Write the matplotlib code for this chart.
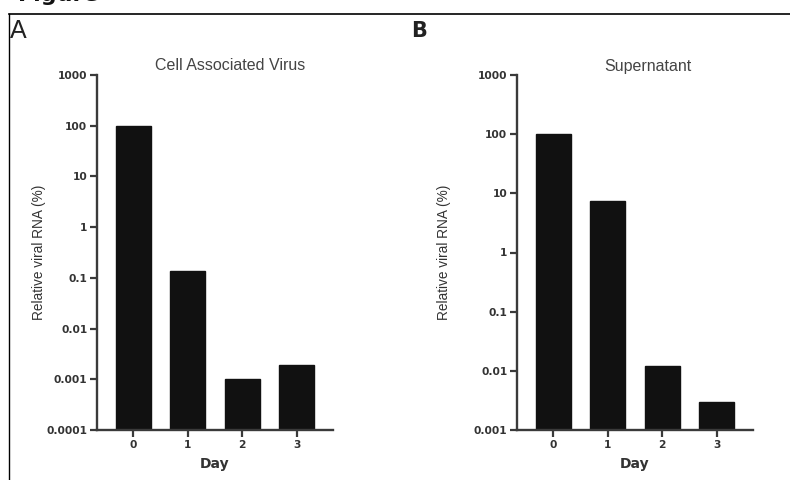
import numpy as np
import matplotlib.pyplot as plt
from matplotlib.ticker import NullLocator

# data
days = [0, 1, 2, 3]
cell_virus = [100, 0.135, 0.001, 0.0019]
supernatant = [100, 7.3, 0.012, 0.003]

a_ticks = [1e-4, 1e-3, 1e-2, 1e-1, 1, 10, 100, 1000]
a_ticklabels = ['0.0001', '0.001', '0.01', '0.1', '1', '10', '100', '1000']
b_ticks = [1e-3, 1e-2, 1e-1, 1, 10, 100, 1000]
b_ticklabels = ['0.001', '0.01', '0.1', '1', '10', '100', '1000']

sans = ['Liberation Sans', 'DejaVu Sans']
axcol = '#3a3a3a'

fig = plt.figure(figsize=(7.9, 4.8), dpi=100)


def panel(rect, vals, ticks, labels, title, title_x, ylab_x):
    ax = fig.add_axes(rect)
    ax.set_yscale('log')
    lo, hi = ticks[0], ticks[-1]
    heights = [v - lo for v in vals]
    ax.bar(days, heights, bottom=lo, width=0.645, color='#111111',
           edgecolor='#111111', linewidth=1)
    ax.set_ylim(lo, hi)
    ax.set_xlim(-0.67, 3.67)
    ax.set_yticks(ticks)
    ax.set_yticklabels(labels)
    ax.yaxis.set_minor_locator(NullLocator())
    ax.set_xticks(days)
    ax.set_xticklabels([str(d) for d in days])
    for s in ['top', 'right']:
        ax.spines[s].set_visible(False)
    for s in ['left', 'bottom']:
        ax.spines[s].set_color(axcol)
        ax.spines[s].set_linewidth(1.7)
    ax.tick_params(axis='both', length=5, width=1.6, color=axcol,
                   labelsize=7.7, labelcolor='#333333', pad=2)
    for t in ax.get_xticklabels() + ax.get_yticklabels():
        t.set_fontweight('bold')
    ax.set_xlabel('Day', fontsize=10, fontweight='bold', color='#333333',
                  labelpad=5)
    ax.set_ylabel('Relative viral RNA (%)', fontsize=9.8, color='#333333',
                  family=sans)
    # label anchor is its right edge once rotated
    ax.yaxis.set_label_coords((ylab_x - rect[0] * 790) / (rect[2] * 790), 0.5)
    fig.text(title_x, 1 - 66 / 480, title, ha='center', va='center',
             fontsize=11.5, color='#444444', family=sans)
    return ax


axA = panel([97 / 790, 50 / 480, 236 / 790, 355 / 480], cell_virus,
            a_ticks, a_ticklabels, 'Cell Associated Virus', 230 / 790, 46)
axB = panel([517 / 790, 50 / 480, 236 / 790, 355 / 480], supernatant,
            b_ticks, b_ticklabels, 'Supernatant', 648 / 790, 451)

# panel letters and the frame of the original page
fig.text(10 / 790, 1 - 31 / 480, 'A', fontsize=18, ha='left', va='center',
         color='#222222', family=sans)
fig.text(411 / 790, 1 - 31 / 480, 'B', fontsize=15, ha='left', va='center',
         color='#222222', fontweight='bold')
fig.text(18 / 790, 1 - 1 / 480, 'Figure', fontsize=16, ha='left',
         va='baseline', fontweight='bold', color='#111111')
fig.add_artist(plt.Line2D([9 / 790, 1], [1 - 14 / 480, 1 - 14 / 480],
                          color='black', linewidth=1.2))
fig.add_artist(plt.Line2D([9 / 790, 9 / 790], [0, 1 - 14 / 480],
                          color='black', linewidth=1.0))

fig.savefig('out.png', dpi=100)
